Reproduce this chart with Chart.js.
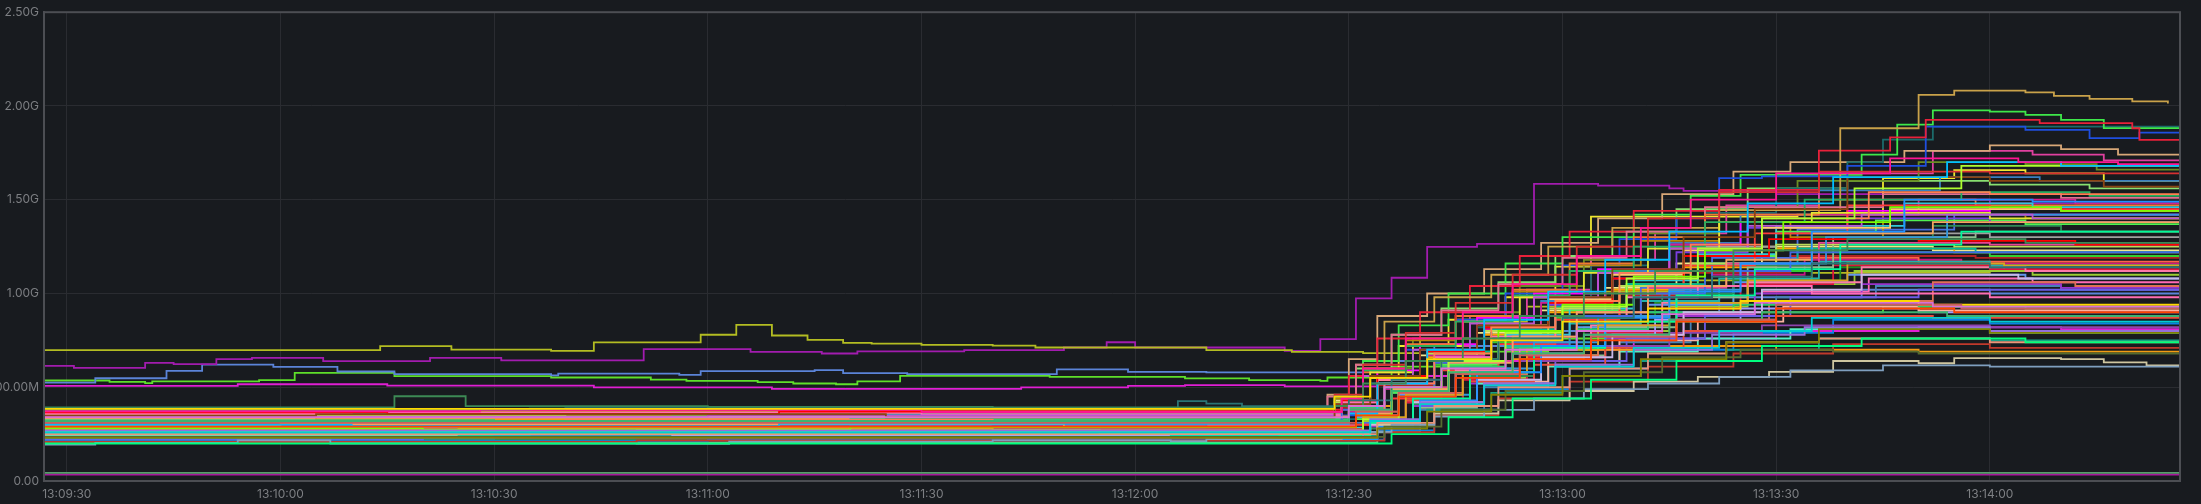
<!DOCTYPE html>
<html>
<head>
<meta charset="utf-8">
<script src="https://cdn.jsdelivr.net/npm/chart.js@4.4.1/dist/chart.umd.min.js"></script>
<style>
  html, body { margin: 0; padding: 0; background: #181b1f; }
  canvas { display: block; }
</style>
</head>
<body>
<canvas id="memGraph" width="2201" height="504"></canvas>
<script>
  // time in seconds after 13:09:00, values in MB; each series is [t, v, t, v, ...]
  const xTicks = [30, 60, 90, 120, 150, 180, 210, 240, 270, 300];
  const yTicks = [0, 500e6, 1000e6, 1500e6, 2000e6, 2500e6];

  const outlierSeries = [
    [26,698, 74,719, 84,701, 98,694, 104,739, 119,780, 124,833, 129,776, 134,753, 139,737, 143,733, 150,726, 160,722, 166,712, 190,698, 202,689, 212,682, 220,760, 227,850, 235,930, 246,1010, 258,1070, 275,1110, 300,1120, 327,1100],
    [26,614, 31,603, 41,630, 45,623, 51,650, 56,657, 66,639, 81,657, 91,643, 111,703, 126,689, 136,680, 141,691, 156,698, 170,712, 176,740, 180,712, 201,694, 206,757, 211,974, 216,1084, 221,1249, 228,1264, 236,1584, 245,1575, 255,1561, 257,1547, 270,1530, 285,1500, 300,1480, 327,1460],
    [26,525, 34,548, 44,587, 49,621, 59,609, 68,584, 76,570, 98,563, 99,573, 116,566, 119,586, 135,591, 139,575, 148,570, 169,595, 179,582, 190,579, 212,640, 222,720, 232,800, 246,900, 262,980, 282,1020, 300,1000, 327,990],
    [26,536, 36,529, 41,522, 42,531, 57,538, 62,577, 76,559, 98,552, 112,541, 117,534, 127,527, 132,520, 138,516, 141,531, 147,561, 168,555, 187,547, 196,538, 206,534, 207,552, 216,610, 226,690, 238,760, 252,850, 268,900, 285,930, 305,920, 327,910],
    [26,507, 54,516, 75,509, 104,499, 129,491, 164,499, 179,507, 187,511, 201,505, 214,560, 224,640, 236,700, 250,760, 270,800, 290,820, 310,810, 327,800],
    [26,43, 327,43],
    [26,34, 327,34]
  ];
  const outlierColors = ['#b3bd22', '#a21caf', '#5b84d8', '#5ee02a', '#e01fd4', '#5a9e6e', '#a8189c'];

  const upperSeries = [
    [26,330, 208,400, 211,620, 215,850, 222,980, 230,1100, 238,1250, 247,1350, 262,1445, 279,1881, 290,2059, 295,2082, 305,2072, 309,2054, 314,2038, 320,2024, 325,2013],
    [26,300, 207,380, 210,560, 214,760, 220,900, 227,1040, 234,1200, 241,1330, 250,1440, 262,1553, 276,1762, 286,1833, 291,1926, 307,1908, 320,1881, 321,1819, 327,1805],
    [26,270, 209,350, 213,520, 218,700, 225,860, 232,1000, 240,1150, 248,1290, 256,1400, 262,1615, 268,1625, 280,1680, 291,1890, 305,1872, 314,1828, 321,1858, 327,1848],
    [26,360, 208,430, 212,640, 217,830, 224,1000, 232,1160, 240,1300, 250,1420, 258,1520, 265,1632, 282,1740, 287,1900, 292,1976, 300,1970, 305,1952, 310,1926, 316,1882, 327,1870],
    [26,250, 210,330, 215,500, 221,660, 228,820, 236,980, 244,1150, 252,1300, 260,1430, 270,1560, 280,1700, 285,1820, 292,1890, 327,1900],
    [26,380, 207,460, 210,650, 214,880, 221,1000, 229,1130, 237,1270, 245,1400, 254,1530, 264,1650, 272,1700, 288,1760, 300,1790, 310,1770, 318,1740, 327,1720],
    [26,340, 209,420, 213,600, 219,760, 226,900, 234,1040, 243,1180, 252,1320, 262,1460, 273,1600, 290,1700, 305,1690, 315,1660, 327,1640],
    [26,290, 210,360, 214,540, 220,720, 227,880, 235,1020, 244,1180, 253,1320, 263,1470, 276,1640, 292,1760, 306,1740, 316,1710, 327,1700],
    [26,375, 208,450, 211,600, 216,780, 223,920, 231,1060, 239,1200, 247,1330, 256,1450, 266,1560, 280,1600, 300,1580, 314,1560, 327,1545],
    [26,240, 211,310, 216,470, 222,640, 229,800, 237,960, 246,1120, 255,1270, 265,1420, 276,1550, 293,1620, 307,1600, 327,1580],
    [26,320, 208,400, 212,560, 217,720, 224,860, 232,980, 239,1143, 244,1410, 273,1420, 285,1615, 295,1658, 305,1640, 316,1600, 327,1561]
  ];
  const upperColors = ['#c9a24a', '#e8213a', '#1f4fe0', '#3ee84a', '#1b6b6b', '#d8a878', '#6b8e23', '#e040a0', '#88e070', '#3a7fc0', '#f0e830'];

  const middleSeries = [
    [26,355, 209,430, 213,580, 219,720, 226,850, 234,980, 243,1110, 252,1240, 262,1380, 275,1430, 300,1400, 327,1380],
    [26,235, 211,300, 216,440, 223,590, 231,730, 239,860, 248,1000, 257,1150, 267,1320, 280,1470, 300,1450, 327,1420],
    [26,310, 210,380, 215,520, 222,660, 230,800, 238,940, 247,1080, 256,1220, 266,1350, 280,1400, 300,1380, 327,1350],
    [26,285, 212,350, 217,490, 224,640, 232,780, 241,920, 250,1070, 259,1210, 270,1360, 288,1480, 306,1460, 327,1440],
    [26,345, 208,420, 212,580, 218,730, 225,880, 233,1020, 241,1160, 250,1300, 260,1420, 276,1500, 298,1470, 327,1450],
    [26,220, 213,280, 219,410, 227,560, 236,700, 245,850, 254,1000, 264,1150, 275,1300, 292,1360, 310,1330, 327,1310],
    [26,300, 210,370, 215,520, 221,670, 229,810, 237,950, 246,1110, 255,1260, 266,1420, 290,1500, 312,1480, 327,1470],
    [26,330, 209,400, 214,550, 221,690, 229,830, 238,970, 247,1110, 257,1250, 270,1320, 300,1300, 327,1280],
    [26,265, 211,330, 216,470, 223,620, 231,770, 240,910, 249,1050, 259,1200, 270,1330, 284,1390, 305,1370, 327,1350],
    [26,370, 208,440, 212,600, 218,750, 225,880, 233,1010, 242,1150, 251,1280, 262,1380, 272,1300, 285,1420, 305,1400, 327,1380],
    [26,250, 212,310, 218,450, 225,600, 233,740, 242,880, 251,1030, 261,1190, 273,1340, 295,1420, 327,1400],
    [26,380, 207,450, 211,620, 216,780, 223,910, 231,1050, 240,1190, 249,1330, 260,1460, 285,1530, 310,1510, 327,1500],
    [26,205, 214,260, 220,390, 228,530, 237,670, 246,820, 256,980, 266,1140, 278,1300, 298,1330, 327,1300],
    [26,360, 209,430, 214,590, 220,730, 228,870, 236,1000, 245,1130, 255,1260, 265,1380, 280,1440, 300,1420, 327,1400],
    [26,240, 212,300, 218,420, 226,540, 235,660, 244,790, 254,920, 265,1050, 278,1150, 300,1130, 327,1110],
    [26,315, 210,380, 215,500, 222,620, 230,740, 239,870, 249,1000, 260,1120, 275,1220, 300,1200, 327,1180],
    [26,275, 211,340, 217,460, 224,580, 233,700, 242,820, 252,940, 264,1060, 280,1100, 305,1080, 327,1060],
    [26,350, 60,362, 209,420, 214,540, 221,660, 229,780, 238,900, 247,1020, 257,1140, 270,1240, 295,1220, 327,1200],
    [26,225, 213,290, 219,400, 227,520, 236,640, 246,760, 256,880, 267,1000, 282,1050, 310,1030, 327,1010],
    [26,295, 211,360, 216,480, 223,600, 232,720, 241,840, 251,960, 262,1080, 276,1170, 300,1150, 327,1130],
    [26,335, 140,345, 209,400, 214,520, 221,640, 229,760, 238,880, 248,1000, 258,1120, 270,1190, 290,1170, 327,1150],
    [26,255, 212,320, 218,430, 226,550, 235,670, 245,800, 255,930, 266,1050, 281,1120, 306,1100, 327,1080],
    [26,305, 210,370, 215,490, 223,610, 232,730, 241,850, 251,980, 261,1100, 274,1180, 296,1160, 327,1140],
    [26,215, 214,270, 220,380, 229,500, 238,620, 248,740, 258,860, 270,980, 284,1040, 310,1020, 327,1000],
    [26,365, 208,430, 213,550, 220,670, 228,790, 237,910, 246,1030, 256,1160, 268,1250, 292,1230, 327,1210],
    [26,280, 211,340, 217,460, 225,580, 234,700, 243,820, 253,950, 264,1070, 279,1140, 302,1120, 327,1100],
    [26,245, 212,310, 218,420, 227,540, 236,660, 246,780, 257,900, 268,1010, 283,1080, 306,1060, 327,1040],
    [26,325, 95,315, 209,390, 214,510, 222,630, 230,750, 239,870, 249,990, 259,1110, 272,1200, 298,1190, 327,1170]
  ];
  const middleColors = ['#e6e633', '#ff3b3b', '#7a3de0', '#30c8d8', '#f07a30', '#2e8b57', '#d02090', '#a0a0a0', '#50f050', '#b8860b', '#4a6fe0', '#e07090', '#8fbc8f', '#ff00ff',
    '#dc143c', '#32cd32', '#6495ed', '#ffa500', '#9932cc', '#20b2aa', '#ff6347', '#9acd32', '#c71585', '#4682b4', '#f0e68c', '#228b22', '#ff69b4', '#b22222'];

  const extraSeries = [
    [26,372, 88,380, 150,368, 209,440, 212,600, 218,760, 226,900, 233,1050, 242,1200, 251,1350, 258,1500, 270,1640, 286,1720, 304,1700, 318,1690, 327,1680],
    [26,300, 70,292, 130,305, 210,360, 214,520, 221,700, 229,860, 238,1010, 246,1180, 255,1330, 266,1480, 278,1620, 294,1700, 310,1680, 327,1660],
    [26,262, 110,270, 175,258, 212,330, 217,480, 224,640, 232,790, 240,930, 249,1080, 259,1240, 268,1400, 281,1560, 296,1680, 327,1650],
    [26,348, 65,356, 145,340, 208,410, 213,560, 220,700, 228,830, 238,980, 247,1130, 257,1300, 267,1450, 280,1620, 300,1600, 316,1570, 327,1560],
    [26,318, 100,326, 160,312, 210,380, 215,520, 222,680, 230,820, 239,960, 248,1110, 258,1260, 268,1400, 283,1540, 300,1530, 327,1500],
    [26,228, 90,236, 200,224, 214,290, 220,430, 228,580, 237,720, 246,870, 255,1010, 265,1160, 275,1330, 288,1500, 306,1490, 327,1470],
    [26,282, 80,274, 140,288, 211,350, 216,500, 223,650, 231,800, 240,940, 250,1090, 260,1230, 271,1380, 286,1460, 310,1440, 327,1430],
    [26,342, 120,350, 208,410, 212,560, 219,700, 227,840, 236,980, 245,1110, 255,1240, 266,1360, 282,1420, 306,1400, 327,1390],
    [26,296, 60,304, 170,290, 211,360, 216,490, 224,630, 233,770, 242,900, 252,1040, 263,1180, 275,1320, 292,1380, 327,1360],
    [26,248, 95,256, 185,242, 213,310, 219,440, 227,580, 236,710, 246,850, 256,990, 267,1130, 279,1260, 296,1330, 327,1300],
    [26,366, 75,358, 130,370, 209,430, 214,560, 221,690, 229,820, 238,950, 247,1080, 257,1200, 269,1290, 290,1280, 312,1260, 327,1240],
    [26,312, 105,320, 209,380, 215,500, 222,630, 231,760, 240,880, 250,1000, 260,1120, 272,1220, 296,1220, 327,1200],
    [26,274, 85,282, 160,270, 212,340, 218,460, 226,580, 235,700, 245,830, 255,950, 266,1070, 280,1160, 302,1150, 327,1130],
    [26,236, 115,244, 213,300, 219,420, 228,540, 237,660, 247,780, 257,900, 268,1020, 282,1100, 304,1080, 327,1050],
    [26,358, 70,366, 150,352, 209,420, 214,540, 222,660, 230,770, 239,880, 249,980, 259,1040, 275,1000, 300,980, 327,960],
    [26,324, 90,316, 140,330, 210,390, 215,500, 223,610, 232,710, 242,810, 252,900, 264,940, 290,930, 327,920],
    [26,268, 75,276, 212,330, 218,430, 227,530, 236,620, 246,710, 257,800, 270,880, 292,870, 327,850],
    [26,292, 120,300, 190,286, 211,350, 217,450, 225,550, 234,640, 244,720, 255,790, 268,830, 300,820, 327,790],
    [26,232, 85,240, 214,290, 221,380, 230,470, 240,560, 251,640, 263,700, 276,760, 300,750, 327,720],
    [26,338, 65,330, 175,344, 210,400, 216,490, 224,580, 233,650, 243,700, 255,720, 270,700, 290,690, 327,650],
    [26,208, 110,216, 215,260, 222,350, 231,440, 241,530, 252,610, 264,680, 278,730, 300,710, 327,690],
    [26,378, 95,386, 208,450, 212,590, 218,720, 225,850, 233,990, 241,1120, 250,1250, 260,1380, 274,1500, 296,1540, 314,1520, 327,1510],
    [26,252, 130,260, 213,320, 219,460, 227,600, 236,740, 245,880, 255,1020, 265,1160, 277,1300, 294,1420, 327,1410],
    [26,302, 55,310, 160,296, 211,370, 216,500, 224,640, 233,770, 242,900, 252,1030, 263,1160, 276,1270, 300,1260, 327,1240],
    [26,352, 100,344, 208,420, 213,550, 221,680, 229,800, 238,920, 248,1040, 258,1160, 270,1260, 295,1250, 327,1230],
    [26,222, 80,230, 214,280, 220,400, 229,520, 239,640, 249,760, 260,880, 272,980, 290,1020, 327,1000],
    [26,286, 140,294, 211,350, 217,470, 225,590, 234,710, 244,830, 254,950, 266,1060, 282,1140, 305,1120, 327,1100],
    [26,362, 115,354, 209,430, 214,560, 221,690, 230,810, 239,930, 249,1050, 260,1160, 273,1240, 298,1220, 327,1200],
    [26,244, 90,252, 213,310, 220,420, 229,530, 238,640, 248,750, 259,850, 271,930, 290,910, 327,890],
    [26,316, 150,324, 210,380, 216,480, 224,580, 233,680, 243,780, 253,860, 265,920, 290,900, 327,880],
    [26,258, 100,266, 213,320, 219,420, 228,520, 238,610, 248,690, 259,760, 272,810, 300,790, 327,770],
    [26,388, 60,380, 208,460, 212,620, 218,790, 225,950, 233,1100, 242,1250, 252,1400, 262,1540, 276,1650, 300,1640, 327,1620],
    [26,330, 85,338, 209,400, 214,540, 221,690, 229,830, 238,970, 247,1100, 257,1230, 268,1350, 286,1450, 310,1440, 327,1420],
    [26,212, 120,220, 215,270, 222,380, 231,490, 241,600, 252,700, 264,790, 278,860, 300,840, 327,820],
    [26,306, 70,298, 211,370, 217,470, 226,570, 235,670, 245,770, 256,860, 269,960, 292,1060, 312,1040, 327,1020]
  ];
  const extraColors = ['#ff1493', '#00bfff', '#adff2f', '#8b4513', '#ff7f50', '#1e90ff', '#7cfc00', '#ba55d3', '#f4a460', '#00fa9a', '#ff0000', '#4169e1',
    '#daa520', '#c8b8e8', '#ff6eb4', '#2ecc71', '#e74c3c', '#8e44ad', '#16a085', '#f39c12', '#c0392b', '#27ae60', '#3498db', '#e84393',
    '#badc58', '#6c5ce7', '#fd79a8', '#00b894', '#fab1a0', '#a29bfe', '#55efc4', '#d63031', '#fdcb6e', '#0984e3', '#e17055'];

  const lowerSeries = [
    [26,230, 214,280, 221,370, 230,460, 240,560, 251,650, 263,740, 276,810, 300,790, 327,770],
    [26,290, 211,350, 217,450, 225,550, 234,650, 244,750, 256,850, 270,920, 295,900, 327,880],
    [26,260, 213,320, 220,410, 229,510, 239,610, 250,710, 262,800, 275,870, 300,850, 327,830],
    [26,340, 210,400, 215,500, 223,600, 232,700, 242,800, 254,890, 267,950, 292,930, 327,910],
    [26,200, 216,250, 224,340, 233,440, 244,540, 256,640, 268,720, 282,760, 305,740, 327,720],
    [26,310, 211,370, 217,470, 225,570, 234,670, 244,770, 256,860, 270,940, 296,920, 327,900],
    [26,235, 215,290, 223,380, 232,480, 243,580, 254,660, 265,700, 278,690, 290,680, 327,660],
    [26,385, 208,450, 213,550, 221,650, 230,750, 240,850, 252,920, 265,960, 290,940, 327,920],
    [26,270, 213,330, 220,420, 229,520, 239,620, 250,700, 261,780, 274,820, 300,800, 327,780],
    [26,320, 210,380, 216,480, 224,580, 233,680, 243,780, 255,860, 268,900, 294,880, 327,860],
    [26,250, 214,310, 222,400, 231,500, 241,600, 252,680, 263,740, 276,760, 300,740, 327,720],
    [26,194, 34,203, 54,217, 67,200, 110,198, 123,210, 160,217, 185,212, 190,223, 209,230, 212,262, 216,300, 222,344, 229,379, 236,440, 243,490, 252,520, 262,555, 272,590, 285,617, 300,610, 327,600],
    [26,262, 214,300, 222,360, 231,430, 241,480, 250,530, 259,555, 269,582, 278,640, 290,628, 295,655, 310,650, 316,633, 322,616, 327,605],
    [26,392, 76,452, 86,399, 120,395, 160,392, 208,400, 212,520, 218,640, 226,760, 234,880, 243,1000, 253,1120, 264,1230, 280,1290, 305,1270, 327,1250],
    [26,385, 100,388, 186,426, 190,413, 195,399, 210,430, 216,540, 223,650, 231,760, 240,870, 250,980, 261,1090, 275,1160, 300,1140, 327,1120]
  ];
  const lowerColors = ['#808000', '#ff4500', '#00ced1', '#da70d6', '#00ff7f', '#cd5c5c', '#556b2f', '#ffd700', '#9370db', '#3cb371', '#e9967a', '#7f9fbf', '#cfc6a0', '#3d8a55', '#2a7575'];

  function toPoints(flat) {
    const pts = [];
    for (let i = 0; i < flat.length; i += 2) {
      pts.push({ x: flat[i], y: flat[i + 1] * 1e6 });
    }
    return pts;
  }

  const datasets = [];
  function addGroup(list, colors) {
    list.forEach((s, i) => {
      datasets.push({
        data: toPoints(s),
        borderColor: colors[i % colors.length],
        borderWidth: 1.8,
        pointRadius: 0,
        stepped: true,
        tension: 0
      });
    });
  }
  addGroup(lowerSeries, lowerColors);
  addGroup(extraSeries, extraColors);
  addGroup(middleSeries, middleColors);
  addGroup(upperSeries, upperColors);
  addGroup(outlierSeries, outlierColors);

  function pad2(n) { return (n < 10 ? '0' : '') + n; }
  function timeLabel(sec) {
    const m = 9 + Math.floor(sec / 60);
    return '13:' + pad2(m) + ':' + pad2(sec % 60);
  }
  function sizeLabel(v) {
    if (v === 0) return '0.00';
    if (v >= 1e9) return (v / 1e9).toFixed(2) + 'G';
    return (v / 1e6).toFixed(2) + 'M';
  }

  const frameColor = '#4c4e53';
  const framePlugin = {
    id: 'frame',
    afterDatasetsDraw(chart) {
      const a = chart.chartArea;
      const ctx = chart.ctx;
      ctx.save();
      ctx.strokeStyle = frameColor;
      ctx.lineWidth = 2;
      ctx.strokeRect(a.left, a.top, a.right - a.left, a.bottom - a.top);
      ctx.restore();
    }
  };

  const tickFont = { family: 'Inter, "Noto Sans", sans-serif', size: 12 };

  const config = {
    type: 'line',
    data: { datasets: datasets },
    options: {
      responsive: false,
      animation: false,
      events: [],
      layout: { padding: { top: 12, right: 21, left: 0, bottom: 0 } },
      plugins: {
        legend: { display: false },
        title: { display: false },
        tooltip: { enabled: false }
      },
      scales: {
        x: {
          type: 'linear',
          min: 26.8,
          max: 326.7,
          afterBuildTicks: (scale) => { scale.ticks = xTicks.map(v => ({ value: v })); },
          afterFit: (scale) => { scale.height = 23; },
          ticks: {
            color: '#7d7f83',
            font: tickFont,
            padding: 6,
            maxRotation: 0,
            autoSkip: false,
            callback: (v) => timeLabel(v)
          },
          grid: { color: '#2a2c31', drawTicks: false, lineWidth: 1 },
          border: { color: frameColor, width: 2 }
        },
        y: {
          min: 0,
          max: 2.5e9,
          afterBuildTicks: (scale) => { scale.ticks = yTicks.map(v => ({ value: v })); },
          afterFit: (scale) => { scale.width = 44; },
          ticks: {
            color: '#7d7f83',
            font: tickFont,
            padding: 5,
            callback: (v) => sizeLabel(v)
          },
          grid: { color: '#2a2c31', drawTicks: false, lineWidth: 1 },
          border: { color: frameColor, width: 2 }
        }
      }
    },
    plugins: [framePlugin]
  };

  const chart = new Chart(document.getElementById('memGraph'), config);
</script>
</body>
</html>
